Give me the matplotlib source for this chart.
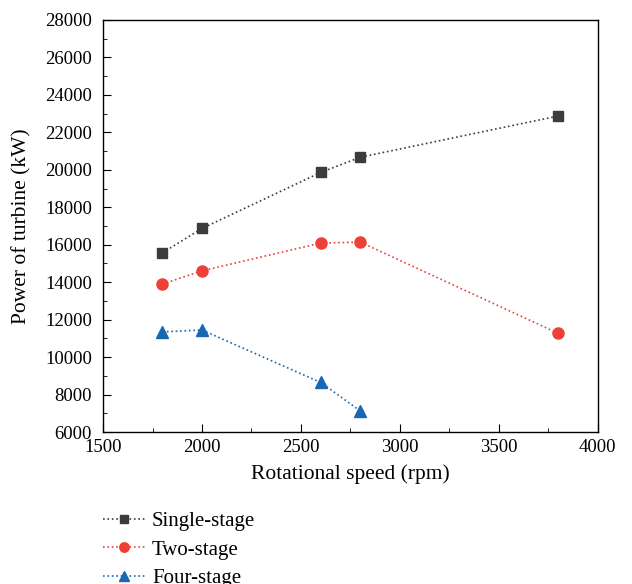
import matplotlib
matplotlib.use("Agg")
import matplotlib.pyplot as plt
from matplotlib.ticker import MultipleLocator

plt.rcParams['font.family'] = ['Liberation Serif', 'DejaVu Serif']

### data
speed = [1800, 2000, 2600, 2800, 3800]
single_stage = [15570, 16870, 19860, 20670, 22870]
two_stage = [13900, 14610, 16090, 16140, 11270]
speed_four = [1800, 2000, 2600, 2800]
four_stage = [11350, 11450, 8650, 7130]

fig = plt.figure(figsize=(6.32, 5.84), dpi=100)
ax = fig.add_axes([0.163, 0.260, 0.783, 0.706])

ax.plot(speed, single_stage, ls=':', color='#3c3c3c', lw=1.2,
        marker='s', ms=7, mfc='#3c3c3c', mec='#3c3c3c', label='Single-stage')
ax.plot(speed, two_stage, ls=':', color='#ee4036', lw=1.2,
        marker='o', ms=8, mfc='#ee4036', mec='#ee4036', label='Two-stage')
ax.plot(speed_four, four_stage, ls=':', color='#1767b3', lw=1.2,
        marker='^', ms=9, mfc='#1767b3', mec='#1767b3', label='Four-stage')

ax.set_xlim(1500, 4000)
ax.set_ylim(6000, 28000)
ax.xaxis.set_major_locator(MultipleLocator(500))
ax.xaxis.set_minor_locator(MultipleLocator(250))
ax.yaxis.set_major_locator(MultipleLocator(2000))
ax.yaxis.set_minor_locator(MultipleLocator(1000))
ax.tick_params(which='both', direction='in', top=False, right=False, labelsize=13.5)
ax.tick_params(which='major', length=6)
ax.tick_params(which='minor', length=3)
ax.tick_params(axis='y', pad=8)
ax.tick_params(axis='x', pad=5)
for s in ax.spines.values():
    s.set_linewidth(1.0)

ax.set_xlabel('Rotational speed (rpm)', fontsize=15.5, labelpad=6)
ax.set_ylabel('Power of turbine (kW)', fontsize=15.5, labelpad=10)

### legend below the axes, last entry runs off the bottom as in the source
fig.legend(loc='upper left', bbox_to_anchor=(0.150, 0.138), frameon=False,
           fontsize=15, handlelength=2.0, handletextpad=0.35, labelspacing=0.42,
           borderaxespad=0, markerscale=0.85)

fig.savefig('out.png', dpi=100)
